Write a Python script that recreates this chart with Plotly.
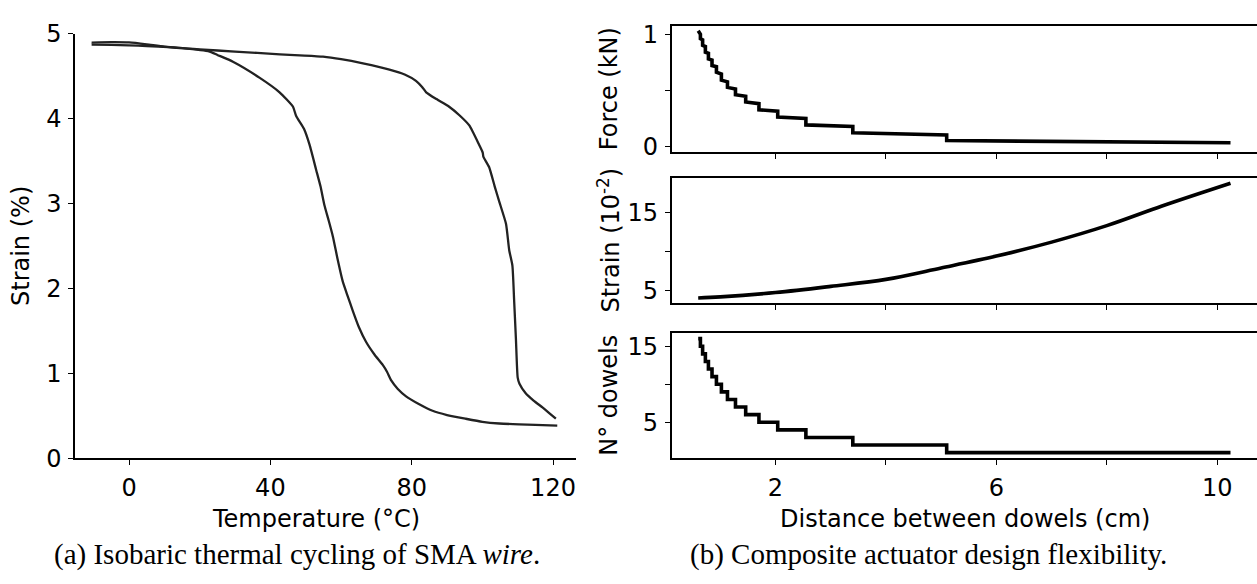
import plotly.graph_objects as go

W, H = 1257, 584

# ---------------- (a) isobaric thermal cycling ----------------
cool_temp = [121.2, 115, 110.4, 104.8, 100, 95.3, 90, 85.9, 82, 78.4, 76, 74.2, 73, 71.8,
             69.5, 67.1, 65, 63.3, 61.8, 60.5, 59, 57.7, 56.5, 55.3, 54.2, 53, 51.1, 49.5,
             47.3, 46.4, 42.6, 37, 29.4, 25, 22.8, 15, 5, 0, -5, -10.6]
cool_strain = [0.385, 0.395, 0.40, 0.41, 0.43, 0.466, 0.51, 0.56, 0.64, 0.73, 0.82, 0.917, 1.02, 1.10,
               1.22, 1.37, 1.55, 1.74, 1.92, 2.08, 2.35, 2.61, 2.80, 2.98, 3.20, 3.39, 3.69, 3.88,
               4.03, 4.14, 4.31, 4.48, 4.67, 4.75, 4.79, 4.83, 4.855, 4.862, 4.868, 4.872]
heat_temp = [-10.6, -5, 0, 5, 10, 20, 30, 42.7, 48.3, 54.9, 60, 66.2, 73.7, 78, 81.2, 83,
             84.1, 87, 90.6, 93.5, 96.3, 99.1, 100.1, 100.3, 101.9, 103.5, 104.8, 106.7,
             107.6, 108.5, 109.0, 109.5, 110.0, 110.5, 112.2, 114.5, 117, 119, 120.8]
heat_strain = [4.895, 4.90, 4.897, 4.875, 4.848, 4.815, 4.79, 4.757, 4.745, 4.73, 4.70, 4.65,
               4.577, 4.52, 4.445, 4.37, 4.31, 4.23, 4.14, 4.04, 3.92, 3.69, 3.60, 3.55, 3.43,
               3.20, 3.02, 2.76, 2.45, 2.27, 1.85, 1.40, 0.95, 0.878, 0.77, 0.68, 0.60, 0.53, 0.466]
temp_ticks = [0, 40, 80, 120]
strain_ticks = [0, 1, 2, 3, 4, 5]

# ---------------- (b) design flexibility ----------------
dist_breaks = [0.60, 0.64, 0.68, 0.73, 0.785, 0.85, 0.93, 1.02, 1.13, 1.275, 1.46, 1.70,
               2.04, 2.55, 3.40, 5.10, 10.24]
n_dowels = [16, 15, 14, 13, 12, 11, 10, 9, 8, 7, 6, 5, 4, 3, 2, 1]
force_start = [1.03, 0.96, 0.90, 0.84, 0.78, 0.72, 0.66, 0.59, 0.525, 0.46, 0.395, 0.325,
               0.26, 0.19, 0.12, 0.05]
force_end = [1.00, 0.95, 0.89, 0.83, 0.77, 0.71, 0.645, 0.575, 0.51, 0.446, 0.38, 0.313,
             0.247, 0.176, 0.10, 0.03]
strain_dist = [0.60, 1.0, 2.0, 3.0, 4.0, 5.0, 6.0, 7.0, 8.0, 9.0, 10.24]
strain_vals = [4.08, 4.22, 4.77, 5.56, 6.45, 7.9, 9.42, 11.2, 13.3, 15.8, 18.7]
dist_major = [2, 6, 10]
dist_minor = [4, 8]
force_major, force_minor = [0, 1], [0.5]
strain_major, strain_minor = [5, 15], [10]
dowel_major, dowel_minor = [5, 15], [10]

# build step paths from the arrays
fx, fy, dx, dy = [], [], [], []
for i, n in enumerate(n_dowels):
    fx += [dist_breaks[i], dist_breaks[i + 1]]
    fy += [force_start[i], force_end[i]]
    dx += [dist_breaks[i], dist_breaks[i + 1]]
    dy += [n, n]

fig = go.Figure()
fig.add_trace(go.Scatter(x=cool_temp, y=cool_strain, mode="lines",
                         line=dict(color="#222222", width=2.3, shape="spline", smoothing=0.5),
                         xaxis="x", yaxis="y", showlegend=False))
fig.add_trace(go.Scatter(x=heat_temp, y=heat_strain, mode="lines",
                         line=dict(color="#222222", width=2.3, shape="spline", smoothing=0.5),
                         xaxis="x", yaxis="y", showlegend=False))
fig.add_trace(go.Scatter(x=fx, y=fy, mode="lines", line=dict(color="black", width=3.6),
                         xaxis="x2", yaxis="y2", showlegend=False))
fig.add_trace(go.Scatter(x=strain_dist, y=strain_vals, mode="lines", line=dict(color="black", width=3.6, shape="spline"),
                         xaxis="x3", yaxis="y3", showlegend=False))
fig.add_trace(go.Scatter(x=dx, y=dy, mode="lines", line=dict(color="black", width=3.6),
                         xaxis="x4", yaxis="y4", showlegend=False))

FONT = "DejaVu Sans"
TF = dict(family=FONT, size=24, color="black")


def px_x(p):
    return p / W


def px_y(p):
    return 1 - p / H


common = dict(showgrid=False, zeroline=False, showline=True, linecolor="black", linewidth=1.5,
              ticks="outside", ticklen=5, tickwidth=1.3, tickcolor="black", tickfont=TF,
              ticklabelstandoff=2)


def minor(vals):
    return dict(tickvals=vals, ticks="outside", ticklen=5, tickwidth=1.3, tickcolor="black", showgrid=False)


lx = [px_x(75), px_x(576)]
rx = [px_x(671.7), 1.0]
xr = [0.12, 10.72]
fig.update_layout(
    width=W, height=H, margin=dict(l=0, r=0, t=0, b=0),
    paper_bgcolor="white", plot_bgcolor="white",
    xaxis=dict(domain=lx, range=[-15.3, 126.5], tickvals=temp_ticks, anchor="y", **common),
    yaxis=dict(domain=[px_y(466.7), px_y(20.7)], range=[0, 5], tickvals=strain_ticks, anchor="x", **common),
    xaxis2=dict(domain=rx, range=xr, tickvals=dist_major, minor=minor(dist_minor), showticklabels=False,
                anchor="y2", mirror=True, **common),
    yaxis2=dict(domain=[px_y(144.7), px_y(13)], range=[-0.05, 1.07], tickvals=force_major,
                minor=minor(force_minor), anchor="x2", **common),
    xaxis3=dict(domain=rx, range=xr, tickvals=dist_major, minor=minor(dist_minor), showticklabels=False,
                anchor="y3", mirror=True, **common),
    yaxis3=dict(domain=[px_y(303.3), px_y(172.3)], range=[3.47, 19.37], tickvals=strain_major,
                minor=minor(strain_minor), anchor="x3", **common),
    xaxis4=dict(domain=rx, range=xr, tickvals=dist_major, minor=minor(dist_minor),
                anchor="y4", mirror=True, **common),
    yaxis4=dict(domain=[px_y(466.7), px_y(335)], range=[0.25, 16.75], tickvals=dowel_major,
                minor=minor(dowel_minor), anchor="x4", **common),
)

ann = []


def add_text(text, x, y, angle=0, font=TF):
    ann.append(dict(text=text, x=px_x(x), y=px_y(y), xref="paper", yref="paper", showarrow=False,
                    textangle=angle, xanchor="center", yanchor="middle", font=font))


add_text("Strain (%)", 21, 243.7, -90)
add_text("Temperature (°C)", 316, 530)
add_text("Force (kN)", 609, 79, -90)
add_text("Strain (10<sup>-2</sup>)", 609, 238, -90)
add_text("N° dowels", 609, 401, -90)
add_text("Distance between dowels (cm)", 965, 530)
CF = dict(family="Liberation Serif", size=29, color="black")
add_text("(a) Isobaric thermal cycling of SMA <i>wire</i>.", 297, 568, 0, CF)
add_text("(b) Composite actuator design flexibility.", 928, 568, 0, CF)
fig.update_layout(annotations=ann)

fig.write_html("out.html")
